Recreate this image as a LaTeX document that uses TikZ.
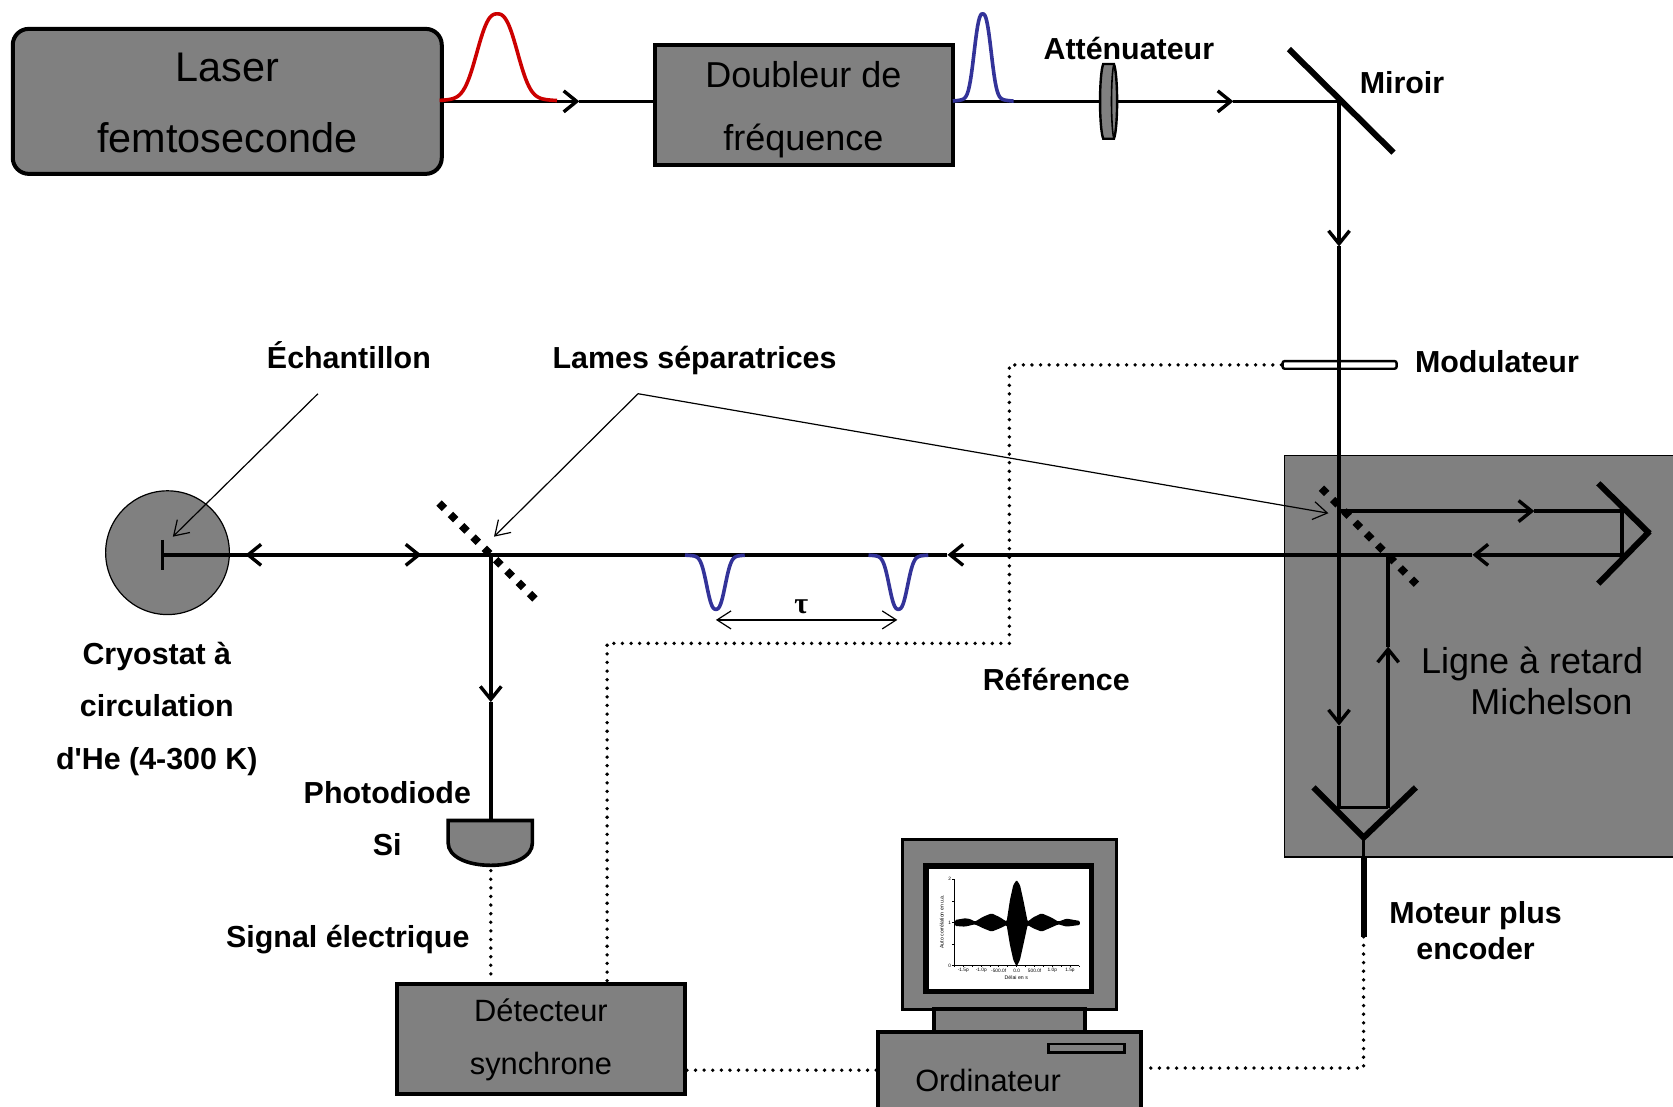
\documentclass[tikz,border=0pt]{standalone}
\usepackage{fontspec}
\setmainfont{Liberation Sans}
\newfontfamily\straightfont{Liberation Sans}
\newfontfamily\serifgreek{Liberation Serif}
\usetikzlibrary{arrows.meta}
\definecolor{boxgray}{HTML}{808080}
\definecolor{pulsered}{HTML}{CC0000}
\definecolor{pulseblue}{HTML}{333399}
\pgfmathdeclarefunction{pshape}{2}{%
  \pgfmathparse{(exp(-((((#1)/(#2))^2+0.0001)^1.3))+0.07*exp(-((#1)/(1.75*(#2)))^2))/1.07}%
}
\tikzset{
  grayfill/.style={draw=black,fill=boxgray,line width=2pt},
  beam/.style={draw=black,line width=1.7pt},
  barb/.style={-{Straight Barb[length=6.5pt,width=10.5pt,line width=1.7pt]}},
  thinarrow/.style={draw=black,line width=0.6pt,-{Straight Barb[length=7pt,width=9pt,line width=0.6pt]}},
  dotline/.style={draw=black,line width=1.9pt,line cap=round,dash pattern=on 0pt off 4.3pt},
  splitter/.style={draw=black,line width=3.76pt,dash pattern=on 3.76pt off 4.24pt},
  heavy/.style={draw=black,line width=3pt},
  lab/.style={font=\fontsize{15.2}{18}\selectfont\bfseries,inner sep=0pt,anchor=center},
  boxt/.style={font=\fontsize{15.4}{18}\selectfont,inner sep=0pt,anchor=center},
  bigt/.style={font=\fontsize{18}{21}\selectfont,inner sep=0pt,anchor=center},
  pulse/.style={line width=1.8pt,line cap=butt}
}
\begin{document}
\begin{tikzpicture}[x=0.53348pt,y=-0.53348pt]
\useasboundingbox (0,0) rectangle (1568,1036.6);
% Michelson enclosure
\path[fill=boxgray,draw=black,line width=0.8pt] (1204,427) rectangle (1575,803);
\path[fill=boxgray,draw=black,line width=0.6pt] (157,518) circle (58);
% boxes
\node[grayfill,rounded corners=8pt,minimum width=214.5pt,minimum height=72.5pt,inner sep=0pt] (laser) at (213,95) {};
\node[grayfill,minimum width=148.8pt,minimum height=60.3pt,inner sep=0pt] (doubler) at (753.5,98.5) {};
\node[grayfill,minimum width=144pt,minimum height=55pt,inner sep=0pt] (lockin) at (507,973.5) {};
\node[font=\fontsize{20.7}{24}\selectfont,inner sep=0pt] (lasertxta) at (213,63) {Laser};
\node[font=\fontsize{20.7}{24}\selectfont,inner sep=0pt] (lasertxtb) at (213,129) {femtoseconde};
\node[bigt] (dbla) at (753,70) {Doubleur de};
\node[bigt] (dblb) at (753,132) {fréquence};
\node[boxt] (deta) at (507,947) {Détecteur};
\node[boxt] (detb) at (507,1000) {synchrone};
% coordinates
\coordinate (a1) at (543,95);
\coordinate (a2) at (1156,95);
\coordinate (mirrorc) at (1255,95);
\coordinate (a3) at (1255,231);
\coordinate (a4) at (1255,680);
\coordinate (rlow) at (1255,757);
\coordinate (rlowb) at (1301,757);
\coordinate (a5) at (1301,606);
\coordinate (bs2) at (1301,520);
\coordinate (bs1) at (1255,479);
\coordinate (a6) at (1438,479);
\coordinate (rtop) at (1520,479);
\coordinate (rbot) at (1520,520);
\coordinate (a7) at (1380,520);
\coordinate (a8) at (888,520);
\coordinate (bs3) at (460,520);
\coordinate (a9) at (395,520);
\coordinate (a10) at (230,520);
\coordinate (sample) at (152,520);
\coordinate (a11) at (460,658);
\coordinate (pdtop) at (460,768);
\coordinate (pdbot) at (460,816);
% beams
\draw[beam,barb] (laser.east |- a1) -- (a1);
\draw[beam] (a1) -- (doubler.west |- a1);
\draw[beam] (doubler.east |- a2) -- (1031,95);
\draw[beam,barb] (1047,95) -- (a2);
\draw[beam] (a2) -- (mirrorc);
\draw[beam,barb] (mirrorc) -- (a3);
\draw[beam] (a3) -- (bs1);
\draw[beam,barb] (bs1) -- (a4);
\draw[beam] (a4) -- (rlow) -- (rlowb);
\draw[beam,barb] (rlowb) -- (a5);
\draw[beam] (a5) -- (bs2);
\draw[beam,barb] (bs1) -- (a6);
\draw[beam] (a6) -- (rtop) -- (rbot);
\draw[beam,barb] (rbot) -- (a7);
\draw[beam] (a7) -- (bs2);
\draw[beam,barb] (bs2) -- (a8);
\draw[beam] (a8) -- (bs3);
\draw[beam,barb] (sample) -- (a9);
\draw[beam] (a9) -- (bs3);
\draw[beam,barb] (bs3) -- (a10);
\draw[beam] (a10) -- (sample);
\draw[beam,barb] (bs3) -- (a11);
\draw[beam] (a11) -- (pdtop);
% optics
\draw[heavy] (1208,46) -- (1306,143);
\draw[splitter] (1238.5,457.5) -- (1327.5,547.5);
\draw[splitter] (411.5,471.5) -- (501.5,561.5);
\draw[heavy] (1498,453) -- (1546,500);
\draw[heavy] (1546,498) -- (1498,547);
\draw[heavy,line cap=butt] (1231,738) -- (1278,785) -- (1327,738);
\draw[draw=black,line width=1.7pt] (1278,785) -- (1278,803);
\draw[heavy] (1278,803) -- (1278,878);
\coordinate (motor) at (1278,878);
\draw[draw=black,line width=1.5pt] (152,506) -- (152,534);
% attenuator
\path[fill=boxgray,draw=black,line width=1.2pt] (1034,60) -- (1044,60) .. controls (1048,70) and (1048,120) .. (1044,130) -- (1034,130) .. controls (1030,120) and (1030,70) .. (1034,60) -- cycle;
\draw[black,line width=0.8pt] (1044,60) .. controls (1041,70) and (1041,120) .. (1044,130);
% modulator
\node[draw=black,fill=white,line width=1.2pt,rounded corners=1pt,minimum width=57pt,minimum height=3.8pt,inner sep=0pt] (mod) at (1255.5,342) {};
\draw[draw=black,line width=1.7pt] (1255,336) -- (1255,348);
% photodiode
\path[grayfill,line width=1.8pt] (420,769) -- (499,769) -- (499,790) .. controls (499,803) and (482,811) .. (460,811) .. controls (438,811) and (420,803) .. (420,790) -- cycle;
% pulses
\draw[pulsered,pulse] plot[domain=412:522,samples=80] (\x,{95-82*pshape(\x-466,23)});
\draw[pulseblue,pulse] plot[domain=893:950,samples=60] (\x,{95-82*pshape(\x-921,9.7)});
\draw[pulseblue,pulse] plot[domain=642:698,samples=60] (\x,{520+51*pshape(\x-671,10.5)});
\draw[pulseblue,pulse] plot[domain=814:870,samples=60] (\x,{520+51*pshape(\x-842,10.5)});
% tau
\coordinate (taul) at (671,581);
\coordinate (taur) at (841,581);
\draw[draw=black,line width=0.6pt,{Straight Barb[length=7pt,width=9pt,line width=0.6pt]}-{Straight Barb[length=7pt,width=9pt,line width=0.6pt]}] (taul) -- (taur);
\node[font=\serifgreek\fontsize{15}{18}\selectfont\bfseries,inner sep=0pt] (tau) at (751,569) {τ};
% computer
\begin{scope}[shift={(806,768.5)},scale=0.3124]
\path[fill=boxgray,draw=black,line width=1.6pt] (128,58) rectangle (770,568);
\path[fill=white,draw=black,line width=2.8pt] (198,138) rectangle (694,515);
\path[fill=boxgray,draw=black,line width=1.9pt] (222,568) rectangle (675,635);
\path[fill=boxgray,draw=black,line width=1.9pt] (54,635) rectangle (843,900);
\path[fill=boxgray,draw=black,line width=1.4pt] (565,672) rectangle (793,698);
% graph
\draw[black,line width=0.6pt] (283,178) -- (283,437) -- (658,437);
\foreach \ty in {178,243,308,373,437} \draw[black,line width=0.3pt] (283,\ty) -- (275,\ty);
\foreach \tx in {283,310,337,364,390,416,443,470,497,524,550,577,604,630,658} \draw[black,line width=0.3pt] (\tx,437) -- (\tx,442);
\fill[black,rounded corners=0.6pt] (285,300) -- (315,295) -- (330,297) -- (345,305) -- (370,290) -- (395,280) -- (420,292) -- (440,305) -- (450,240) -- (460,195) -- (470,180) -- (480,195) -- (490,240) -- (503,305) -- (520,292) -- (545,280) -- (575,293) -- (595,305) -- (620,296) -- (660,303) -- (660,315) -- (620,320) -- (595,313) -- (575,322) -- (545,335) -- (520,325) -- (503,315) -- (490,375) -- (480,420) -- (470,440) -- (460,420) -- (450,375) -- (440,315) -- (420,325) -- (395,335) -- (370,325) -- (345,313) -- (315,320) -- (285,318) -- cycle;
\node[font=\fontsize{2.6}{3}\selectfont,rotate=90,inner sep=0pt] (yl) at (245,305) {Auto corrélation en u.a.};
\node[font=\fontsize{2.6}{3}\selectfont,inner sep=0pt] (xl) at (469,472) {Délai en s};
\node[font=\fontsize{2.4}{3}\selectfont,inner sep=0pt] (yt2) at (269,178) {2};
\node[font=\fontsize{2.4}{3}\selectfont,inner sep=0pt] (yt1) at (269,308) {1};
\node[font=\fontsize{2.4}{3}\selectfont,inner sep=0pt] (yt0) at (269,437) {0};
\node[font=\fontsize{2.4}{3}\selectfont,inner sep=0pt] (xt1) at (310,452) {-1.5p};
\node[font=\fontsize{2.4}{3}\selectfont,inner sep=0pt] (xt2) at (364,452) {-1.0p};
\node[font=\fontsize{2.4}{3}\selectfont,inner sep=0pt] (xt3) at (416,452) {-500.0f};
\node[font=\fontsize{2.4}{3}\selectfont,inner sep=0pt] (xt4) at (470,452) {0.0};
\node[font=\fontsize{2.4}{3}\selectfont,inner sep=0pt] (xt5) at (524,452) {500.0f};
\node[font=\fontsize{2.4}{3}\selectfont,inner sep=0pt] (xt6) at (577,452) {1.0p};
\node[font=\fontsize{2.4}{3}\selectfont,inner sep=0pt] (xt7) at (630,452) {1.5p};
\end{scope}
\node[boxt] (ordi) at (926,1013) {Ordinateur};
% dotted
\coordinate (dm1) at (946,342);
\coordinate (dm2) at (946,603);
\coordinate (dm3) at (569,603);
\coordinate (dd1) at (1278,1001);
\draw[dotline] (mod.west) -- (dm1) -- (dm2) -- (dm3) -- (lockin.north -| dm3);
\draw[dotline] (motor) -- (dd1) -- (1071,1001);
\draw[dotline] (lockin.east |- 0,1003) -- (822,1003);
\draw[dotline] (pdbot) -- (lockin.north -| pdbot);
% annotation arrows
\coordinate (ech) at (298,369);
\coordinate (echt) at (162,503);
\coordinate (lam) at (598,369);
\coordinate (lamt1) at (463,503);
\coordinate (lamt2) at (1245,481);
\draw[thinarrow] (ech) -- (echt);
\draw[thinarrow] (lam) -- (lamt1);
\draw[thinarrow] (lam) -- (lamt2);
% labels
\node[lab] (l1) at (1058,45) {Atténuateur};
\node[lab] (l2) at (1314,77) {Miroir};
\node[lab] (l3) at (1403,339) {Modulateur};
\node[lab] (l4) at (327,333) {Échantillon};
\node[lab] (l5) at (651,338) {Lames séparatrices};
\node[lab] (l6) at (147,615) {Cryostat à};
\node[lab] (l7) at (147,661) {circulation};
\node[lab] (l8) at (147,714) {\straightfont\bfseries d'He (4-300 K)};
\node[lab] (l9) at (363,743) {Photodiode};
\node[lab] (l10) at (363,792) {Si};
\node[lab] (l11) at (326,881) {Signal électrique};
\node[lab] (l12) at (990,637) {Référence};
\node[lab] (l13) at (1383,858) {Moteur plus};
\node[lab] (l14) at (1383,889) {encoder};
\node[bigt] (l15) at (1436,622) {Ligne à retard};
\node[bigt] (l16) at (1454,658) {Michelson};
\end{tikzpicture}
\end{document}
